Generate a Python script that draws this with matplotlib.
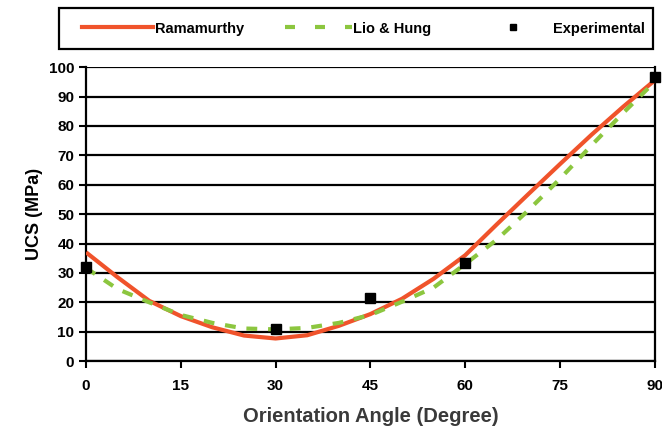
import matplotlib.pyplot as plt
from matplotlib.lines import Line2D
from matplotlib.patches import Rectangle

plt.rcParams['font.family'] = ['Liberation Sans', 'DejaVu Sans']
plt.rcParams['font.weight'] = 'bold'

# orientation angle (degree)
angle = [0, 5, 10, 15, 20, 25, 30, 35, 40, 45, 50, 55, 60, 65, 70, 75, 80, 85, 90]

# UCS (MPa) predicted by each model
ramamurthy = [37, 28.5, 20.5, 15.3, 11.5, 8.7, 7.7, 8.8, 12, 16, 21.2, 28,
              36, 46.5, 56.8, 67, 77, 86.5, 95.5]
lio_hung = [31.7, 24.5, 20, 15.7, 13, 11.1, 10.8, 11.3, 13, 15.7, 20.2, 25,
            33, 41.3, 51.3, 62, 73.4, 84.4, 95]

# measured values
exp_angle = [0, 30, 45, 60, 90]
exp_ucs = [32, 11, 21.5, 33.3, 96.5]

red = '#f0532b'
green = '#8cc63f'

fig = plt.figure(figsize=(6.62, 4.33), dpi=100)
ax = fig.add_axes([0.13, 0.166, 0.859, 0.679])

ax.plot(angle, ramamurthy, color=red, lw=3, zorder=3, solid_capstyle='butt')
ax.plot(angle, lio_hung, color=green, lw=3, dashes=(2.6, 2.6), zorder=4)
ax.plot(exp_angle, exp_ucs, 's', color='black', ms=6.5, zorder=5, clip_on=False)

ax.set_xlim(0, 90)
ax.set_ylim(0, 100)
ax.set_xticks(range(0, 91, 15))
ax.set_yticks(range(0, 101, 10))
ax.tick_params(axis='both', labelsize=11, width=1.5, length=5, direction='out',
               colors='black')
ax.tick_params(axis='x', pad=8)
ax.grid(axis='y', color='black', lw=1.6)
ax.set_axisbelow(True)
for side in ['left', 'right', 'bottom']:
    ax.spines[side].set_linewidth(1.6)
ax.spines['top'].set_visible(False)

ax.set_ylabel('UCS (MPa)', fontsize=13, fontweight='bold', labelpad=4)
ax.set_xlabel('Orientation Angle (Degree)', fontsize=14.5, fontweight='bold',
              color='#3a3a3a', labelpad=10)

# legend box drawn above the plot
fig.add_artist(Rectangle((0.089, 0.887), 0.898, 0.095, transform=fig.transFigure,
                         fill=False, edgecolor='black', lw=1.6))
fig.add_artist(Line2D([0.124, 0.231], [0.937, 0.937], transform=fig.transFigure,
                      color=red, lw=3))
fig.text(0.234, 0.933, 'Ramamurthy', fontsize=10.5, fontweight='bold', va='center')
fig.add_artist(Line2D([0.43, 0.532], [0.937, 0.937], transform=fig.transFigure,
                      color=green, lw=3, dashes=(2.4, 4.8)))
fig.text(0.533, 0.933, 'Lio & Hung', fontsize=10.5, fontweight='bold', va='center')
fig.add_artist(Line2D([0.775], [0.938], transform=fig.transFigure, marker='s',
                      color='black', ms=4.5))
fig.text(0.835, 0.933, 'Experimental', fontsize=10.5, fontweight='bold', va='center')

fig.savefig('out.png', dpi=100)
